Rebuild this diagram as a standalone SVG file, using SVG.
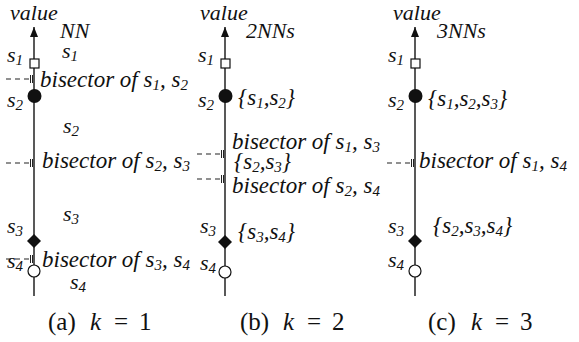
<svg xmlns="http://www.w3.org/2000/svg" width="579" height="342" viewBox="0 0 579 342">
<defs>
<marker id="arr" viewBox="0 0 10 8" refX="10" refY="4" markerWidth="10" markerHeight="8" markerUnits="userSpaceOnUse" orient="auto">
<path d="M0,0 L10,4 L0,8 Z" fill="#111"/>
</marker>
<g id="tk" stroke="#222" stroke-width="1"><line x1="-3.5" y1="-4" x2="-3.5" y2="4"/><line x1="-1.5" y1="-4" x2="-1.5" y2="4"/></g>
</defs>
<g id="connectors" fill="none">
<g stroke="#222" stroke-width="1.5">
<line x1="34" y1="296" x2="34" y2="27" marker-end="url(#arr)"/>
<line x1="225" y1="296" x2="225" y2="27" marker-end="url(#arr)"/>
<line x1="415" y1="296" x2="415" y2="27" marker-end="url(#arr)"/>
</g>
<g stroke="#222" stroke-width="1.2" stroke-dasharray="5,4">
<line x1="6" y1="79" x2="31" y2="79"/>
<line x1="6" y1="163" x2="31" y2="163"/>
<line x1="6" y1="259" x2="31" y2="259"/>
<line x1="197" y1="154" x2="222" y2="154"/>
<line x1="197" y1="179" x2="222" y2="179"/>
<line x1="387" y1="163" x2="412" y2="163"/>
</g>
<use href="#tk" x="34" y="79"/><use href="#tk" x="34" y="163"/><use href="#tk" x="34" y="259"/>
<use href="#tk" x="225" y="154"/><use href="#tk" x="225" y="179"/><use href="#tk" x="415" y="163"/>
</g>
<g id="panel-a" fill="#111">
<text font-family="Liberation Serif" font-style="italic" font-size="22" x="10" y="20">value</text>
<text font-family="Liberation Serif" font-style="italic" font-size="22" x="60" y="38">NN</text>
<g id="a-s1"><rect x="30" y="59" width="9" height="9" fill="#fff" stroke="#111" stroke-width="1.2"/><text font-family="Liberation Serif" font-style="italic" font-size="22" x="7" y="62">s<tspan font-size="15" dy="3">1</tspan></text></g>
<text font-family="Liberation Serif" font-style="italic" font-size="22" x="62" y="58">s<tspan font-size="15" dy="3">1</tspan></text>
<text font-family="Liberation Serif" font-style="italic" font-size="23" x="40" y="87">bisector of s<tspan font-size="15" dy="3">1</tspan><tspan dy="-3">, s</tspan><tspan font-size="15" dy="3">2</tspan></text>
<g id="a-s2"><circle cx="34.5" cy="96" r="7" fill="#111"/><text font-family="Liberation Serif" font-style="italic" font-size="22" x="7" y="107">s<tspan font-size="15" dy="3">2</tspan></text></g>
<text font-family="Liberation Serif" font-style="italic" font-size="22" x="63" y="133">s<tspan font-size="15" dy="3">2</tspan></text>
<text font-family="Liberation Serif" font-style="italic" font-size="23" x="42" y="168">bisector of s<tspan font-size="15" dy="3">2</tspan><tspan dy="-3">, s</tspan><tspan font-size="15" dy="3">3</tspan></text>
<text font-family="Liberation Serif" font-style="italic" font-size="22" x="63" y="221">s<tspan font-size="15" dy="3">3</tspan></text>
<g id="a-s3"><path d="M34,234 L41,241 L34,248 L27,241 Z" fill="#111"/><text font-family="Liberation Serif" font-style="italic" font-size="22" x="7" y="233">s<tspan font-size="15" dy="3">3</tspan></text></g>
<text font-family="Liberation Serif" font-style="italic" font-size="23" x="42" y="267">bisector of s<tspan font-size="15" dy="3">3</tspan><tspan dy="-3">, s</tspan><tspan font-size="15" dy="3">4</tspan></text>
<g id="a-s4"><circle cx="34" cy="271" r="6" fill="#fff" stroke="#111" stroke-width="1.2"/><text font-family="Liberation Serif" font-style="italic" font-size="22" x="7" y="268">s<tspan font-size="15" dy="3">4</tspan></text></g>
<text font-family="Liberation Serif" font-style="italic" font-size="22" x="70" y="289">s<tspan font-size="15" dy="3">4</tspan></text>
<text font-family="Liberation Serif" font-size="25" x="48" y="330">(a)</text><text font-family="Liberation Serif" font-style="italic" font-size="25" x="90" y="330">k</text><text font-family="Liberation Serif" font-size="25" x="114" y="330">=</text><text font-family="Liberation Serif" font-size="25" x="139" y="330">1</text>
</g>
<g id="panel-b" fill="#111">
<text font-family="Liberation Serif" font-style="italic" font-size="22" x="200" y="20">value</text>
<text font-family="Liberation Serif" font-style="italic" font-size="22" x="246" y="38">2NNs</text>
<g id="b-s1"><rect x="221" y="59" width="9" height="9" fill="#fff" stroke="#111" stroke-width="1.2"/><text font-family="Liberation Serif" font-style="italic" font-size="22" x="198" y="62">s<tspan font-size="15" dy="3">1</tspan></text></g>
<g id="b-s2"><circle cx="225.5" cy="96" r="7" fill="#111"/><text font-family="Liberation Serif" font-style="italic" font-size="22" x="198" y="107">s<tspan font-size="15" dy="3">2</tspan></text></g>
<text font-family="Liberation Serif" font-style="italic" font-size="23" x="238" y="105">{s<tspan font-size="15" dy="3">1</tspan><tspan dy="-3">,s</tspan><tspan font-size="15" dy="3">2</tspan><tspan dy="-3">}</tspan></text>
<text font-family="Liberation Serif" font-style="italic" font-size="23" x="232" y="149">bisector of s<tspan font-size="15" dy="3">1</tspan><tspan dy="-3">, s</tspan><tspan font-size="15" dy="3">3</tspan></text>
<text font-family="Liberation Serif" font-style="italic" font-size="23" x="234" y="169">{s<tspan font-size="15" dy="3">2</tspan><tspan dy="-3">,s</tspan><tspan font-size="15" dy="3">3</tspan><tspan dy="-3">}</tspan></text>
<text font-family="Liberation Serif" font-style="italic" font-size="23" x="232" y="193">bisector of s<tspan font-size="15" dy="3">2</tspan><tspan dy="-3">, s</tspan><tspan font-size="15" dy="3">4</tspan></text>
<g id="b-s3"><path d="M225,235 L232,242 L225,249 L218,242 Z" fill="#111"/><text font-family="Liberation Serif" font-style="italic" font-size="22" x="200" y="233">s<tspan font-size="15" dy="3">3</tspan></text></g>
<text font-family="Liberation Serif" font-style="italic" font-size="23" x="238" y="239">{s<tspan font-size="15" dy="3">3</tspan><tspan dy="-3">,s</tspan><tspan font-size="15" dy="3">4</tspan><tspan dy="-3">}</tspan></text>
<g id="b-s4"><circle cx="225" cy="272" r="6" fill="#fff" stroke="#111" stroke-width="1.2"/><text font-family="Liberation Serif" font-style="italic" font-size="22" x="200" y="270">s<tspan font-size="15" dy="3">4</tspan></text></g>
<text font-family="Liberation Serif" font-size="25" x="240" y="330">(b)</text><text font-family="Liberation Serif" font-style="italic" font-size="25" x="283" y="330">k</text><text font-family="Liberation Serif" font-size="25" x="307" y="330">=</text><text font-family="Liberation Serif" font-size="25" x="332" y="330">2</text>
</g>
<g id="panel-c" fill="#111">
<text font-family="Liberation Serif" font-style="italic" font-size="22" x="393" y="20">value</text>
<text font-family="Liberation Serif" font-style="italic" font-size="22" x="437" y="38">3NNs</text>
<g id="c-s1"><rect x="411" y="59" width="9" height="9" fill="#fff" stroke="#111" stroke-width="1.2"/><text font-family="Liberation Serif" font-style="italic" font-size="22" x="388" y="62">s<tspan font-size="15" dy="3">1</tspan></text></g>
<g id="c-s2"><circle cx="415.5" cy="96" r="7" fill="#111"/><text font-family="Liberation Serif" font-style="italic" font-size="22" x="388" y="107">s<tspan font-size="15" dy="3">2</tspan></text></g>
<text font-family="Liberation Serif" font-style="italic" font-size="23" x="428" y="106">{s<tspan font-size="15" dy="3">1</tspan><tspan dy="-3">,s</tspan><tspan font-size="15" dy="3">2</tspan><tspan dy="-3">,s</tspan><tspan font-size="15" dy="3">3</tspan><tspan dy="-3">}</tspan></text>
<text font-family="Liberation Serif" font-style="italic" font-size="23" x="419" y="168">bisector of s<tspan font-size="15" dy="3">1</tspan><tspan dy="-3">, s</tspan><tspan font-size="15" dy="3">4</tspan></text>
<text font-family="Liberation Serif" font-style="italic" font-size="23" x="433" y="233">{s<tspan font-size="15" dy="3">2</tspan><tspan dy="-3">,s</tspan><tspan font-size="15" dy="3">3</tspan><tspan dy="-3">,s</tspan><tspan font-size="15" dy="3">4</tspan><tspan dy="-3">}</tspan></text>
<g id="c-s3"><path d="M415,234 L422,241 L415,248 L408,241 Z" fill="#111"/><text font-family="Liberation Serif" font-style="italic" font-size="22" x="388" y="233">s<tspan font-size="15" dy="3">3</tspan></text></g>
<g id="c-s4"><circle cx="415" cy="271" r="6" fill="#fff" stroke="#111" stroke-width="1.2"/><text font-family="Liberation Serif" font-style="italic" font-size="22" x="388" y="267">s<tspan font-size="15" dy="3">4</tspan></text></g>
<text font-family="Liberation Serif" font-size="25" x="428" y="330">(c)</text><text font-family="Liberation Serif" font-style="italic" font-size="25" x="471" y="330">k</text><text font-family="Liberation Serif" font-size="25" x="495" y="330">=</text><text font-family="Liberation Serif" font-size="25" x="520" y="330">3</text>
</g>
</svg>
